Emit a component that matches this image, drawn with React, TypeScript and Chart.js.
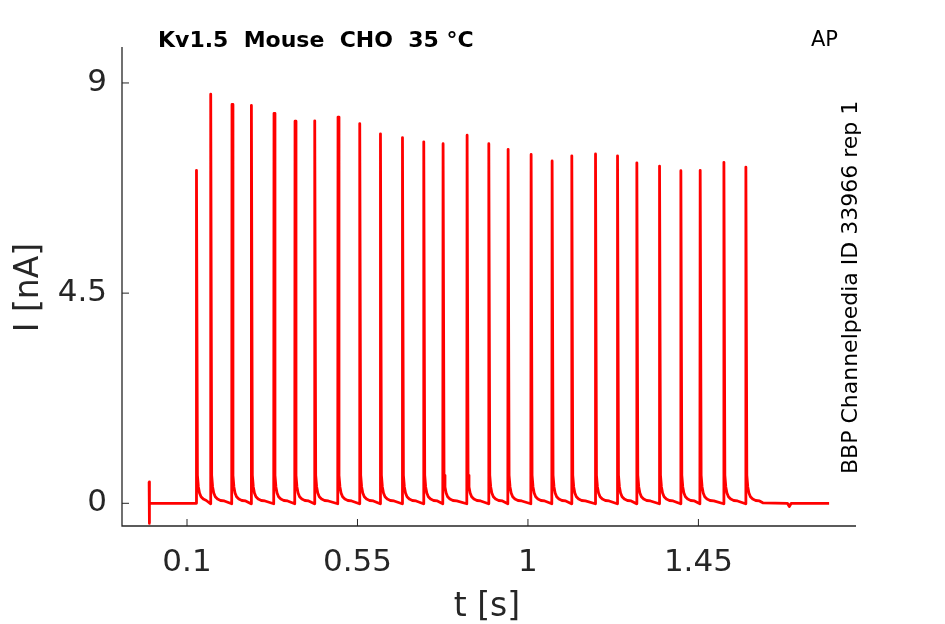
import { useEffect, useRef } from "react";
import { Chart, registerables } from "chart.js";

Chart.register(...registerables);

// peak times (s) and peak currents (nA) of the AP-evoked spikes
const spikeTimes = [
  0.125, 0.1626, 0.2188, 0.27, 0.3297, 0.3852, 0.4372, 0.4987, 0.556, 0.6107,
  0.6688, 0.725, 0.776, 0.8394, 0.8967, 0.9477, 1.0084, 1.0638, 1.1158, 1.1784,
  1.2365, 1.2875, 1.3474, 1.4037, 1.4547, 1.5173, 1.5753,
];
const spikePeaks = [
  7.13, 8.76, 8.54, 8.52, 8.35, 8.18, 8.19, 8.27, 8.13, 7.91,
  7.83, 7.74, 7.7, 7.88, 7.7, 7.58, 7.47, 7.33, 7.44, 7.48,
  7.44, 7.29, 7.22, 7.12, 7.13, 7.3, 7.2,
];

// decay after each peak (offset in s, current in nA)
const riseTime = 0.0008;
const onsetValue = -0.01;
const tailDt = [0.0025, 0.005, 0.008, 0.012, 0.018, 0.026, 0.036];
const tailValues = [0.6, 0.35, 0.22, 0.14, 0.09, 0.06, 0.05];

// stimulus artifact at the start and the flat end of the sweep
const leadTimes = [0, 0.0004, 0.0008, 0.0012];
const leadValues = [0.46, -0.43, 0, 0];
const endTimes = [1.62, 1.685, 1.69, 1.695, 1.795];
const endValues = [0.01, 0.0, -0.07, 0.0, 0.0];

const xTicks = [0.1, 0.55, 1, 1.45];
const xTickLabels = ["0.1", "0.55", "1", "1.45"];
const yTicks = [0, 4.5, 9];
const yTickLabels = ["0", "4.5", "9"];

const FONT = "'DejaVu Sans', sans-serif";
const AXIS = "#262626";

function buildTrace() {
  const pts: { x: number; y: number }[] = [];
  leadTimes.forEach((t, i) => pts.push({ x: t, y: leadValues[i] }));
  spikeTimes.forEach((tp, i) => {
    const next = i + 1 < spikeTimes.length ? spikeTimes[i + 1] - riseTime : Infinity;
    pts.push({ x: tp - riseTime, y: i === 0 ? 0 : onsetValue });
    pts.push({ x: tp, y: spikePeaks[i] });
    tailDt.forEach((dt, k) => {
      if (tp + dt < next - 0.001) pts.push({ x: tp + dt, y: tailValues[k] });
    });
  });
  endTimes.forEach((t, i) => pts.push({ x: t, y: endValues[i] }));
  return pts;
}

const decorations = {
  id: "decorations",
  afterDraw(chart: any) {
    const { ctx, chartArea } = chart;
    const xs = chart.scales.x;
    const ys = chart.scales.y;
    ctx.save();
    // spines
    ctx.strokeStyle = AXIS;
    ctx.lineWidth = 1.3;
    ctx.beginPath();
    ctx.moveTo(chartArea.left, chartArea.top);
    ctx.lineTo(chartArea.left, chartArea.bottom);
    ctx.lineTo(chartArea.right, chartArea.bottom);
    ctx.stroke();
    // inward ticks
    ctx.lineWidth = 1;
    ctx.beginPath();
    xTicks.forEach((v) => {
      const px = xs.getPixelForValue(v);
      ctx.moveTo(px, chartArea.bottom);
      ctx.lineTo(px, chartArea.bottom - 7);
    });
    yTicks.forEach((v) => {
      const py = ys.getPixelForValue(v);
      ctx.moveTo(chartArea.left, py);
      ctx.lineTo(chartArea.left + 7, py);
    });
    ctx.stroke();

    // title and notes
    ctx.fillStyle = "#000";
    ctx.textBaseline = "alphabetic";
    ctx.textAlign = "left";
    ctx.font = `bold 22px ${FONT}`;
    ctx.fillText("Kv1.5  Mouse  CHO  35 °C", 158, 47);
    ctx.font = `21px ${FONT}`;
    ctx.fillText("AP", 811, 46);

    ctx.save();
    ctx.translate(857, 474);
    ctx.rotate(-Math.PI / 2);
    ctx.font = `22px ${FONT}`;
    ctx.fillText("BBP Channelpedia ID 33966 rep 1", 0, 0);
    ctx.restore();

    // axis labels
    ctx.fillStyle = AXIS;
    ctx.font = `33px ${FONT}`;
    ctx.textAlign = "center";
    ctx.fillText("t [s]", (chartArea.left + chartArea.right) / 2 - 2, 616);
    ctx.save();
    ctx.translate(37.5, 287.5);
    ctx.rotate(-Math.PI / 2);
    ctx.fillText("I [nA]", 0, 0);
    ctx.restore();
    ctx.restore();
  },
};

export default function App() {
  const canvasRef = useRef<HTMLCanvasElement>(null);

  useEffect(() => {
    if (!canvasRef.current) return;
    const chart = new Chart(canvasRef.current, {
      type: "line",
      data: {
        datasets: [
          {
            data: buildTrace(),
            borderColor: "#ff0000",
            borderWidth: 2.8,
            borderJoinStyle: "round",
            pointRadius: 0,
            tension: 0,
            fill: false,
          },
        ],
      },
      options: {
        animation: false,
        responsive: true,
        maintainAspectRatio: false,
        layout: { padding: { top: 47, right: 89, left: 0, bottom: 0 } },
        plugins: { legend: { display: false }, tooltip: { enabled: false } },
        scales: {
          x: {
            type: "linear",
            min: -0.0716,
            max: 1.866,
            afterFit: (s: any) => {
              s.height = 98;
            },
            afterBuildTicks: (s: any) => {
              s.ticks = xTicks.map((v) => ({ value: v }));
            },
            grid: { display: false, drawTicks: false },
            border: { display: false },
            ticks: {
              padding: 18,
              color: AXIS,
              font: { family: FONT, size: 31 },
              maxRotation: 0,
              callback: (v: any) => xTickLabels[xTicks.indexOf(Number(v))] ?? "",
            },
          },
          y: {
            type: "linear",
            min: -0.486,
            max: 9.77,
            afterFit: (s: any) => {
              s.width = 122;
            },
            afterBuildTicks: (s: any) => {
              s.ticks = yTicks.map((v) => ({ value: v }));
            },
            grid: { display: false, drawTicks: false },
            border: { display: false },
            ticks: {
              padding: 15,
              color: AXIS,
              font: { family: FONT, size: 31 },
              callback: (v: any) => yTickLabels[yTicks.indexOf(Number(v))] ?? "",
            },
          },
        },
      },
      plugins: [decorations],
    });
    return () => chart.destroy();
  }, []);

  return (
    <div style={{ position: "absolute", left: 0, top: 0, width: 945, height: 624, background: "#fff" }}>
      <canvas ref={canvasRef} />
    </div>
  );
}
